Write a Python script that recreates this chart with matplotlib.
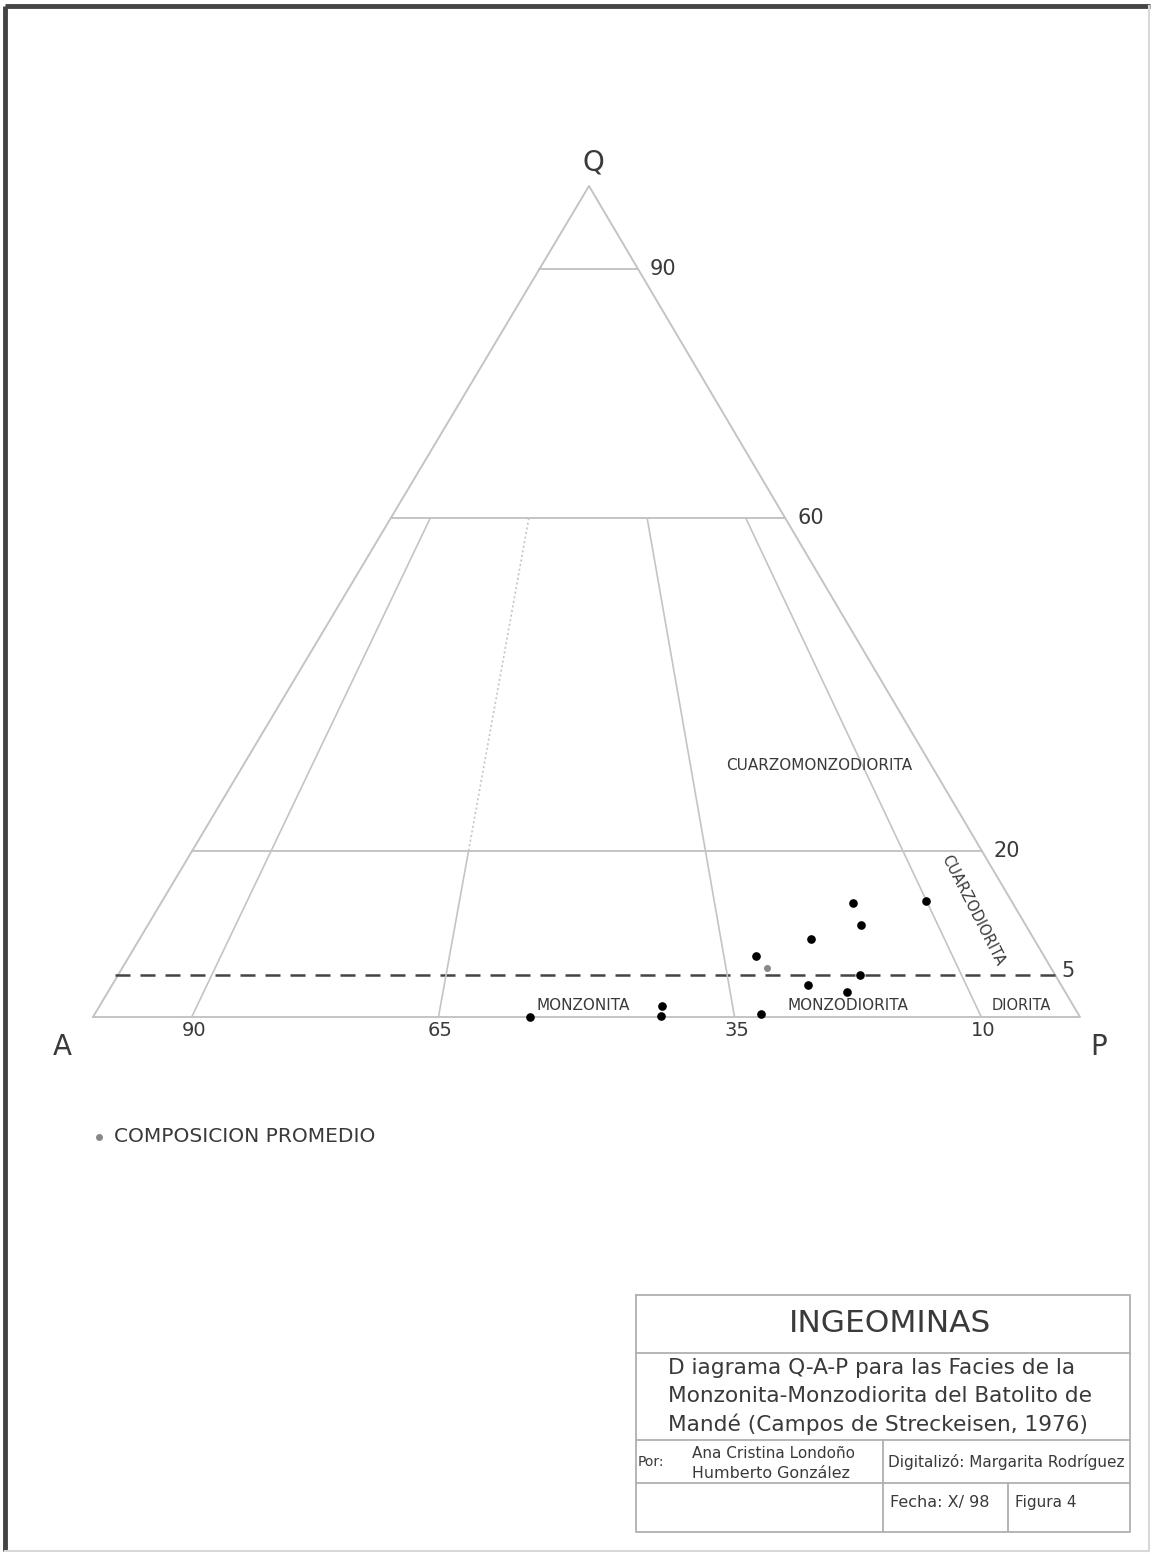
import numpy as np
import matplotlib.pyplot as plt

plt.rcParams['font.family'] = ['DejaVu Sans']

muestras_Q = [13.7, 14.0, 11.1, 9.4, 7.3, 5.0, 3.9, 3.0, 0.4, 0.0, 1.3, 0.1]
muestras_A = [16.2, 8.6, 16.6, 22.6, 29.2, 19.8, 25.6, 22.1, 32.1, 55.7, 41.7, 42.4]
muestras_P = [70.1, 77.4, 72.2, 68.0, 63.5, 75.2, 70.5, 74.9, 67.5, 44.3, 57.0, 57.5]
promedio_Q = [5.9]
promedio_A = [28.8]
promedio_P = [65.3]

limites_Q = [90, 60, 20]          # lineas horizontales de cuarzo
limite_Q_rayado = 5
limites_A = [90, 65, 35, 10]      # divisiones A/(A+P)
campos = ['MONZONITA', 'MONZODIORITA', 'DIORITA']

# vertices del triangulo (pixeles de la figura)
VA = np.array([93.0, 1017.0])
VP = np.array([1080.0, 1017.0])
VQ = np.array([589.0, 186.0])


def tern(q, a, p):
    q, a, p = np.asarray(q, float), np.asarray(a, float), np.asarray(p, float)
    s = q + a + p
    x = (a * VA[0] + p * VP[0] + q * VQ[0]) / s
    y = (a * VA[1] + p * VP[1] + q * VQ[1]) / s
    return x, y


def punto(q, r):
    # q fraccion de cuarzo, r = P/(A+P)
    return tern(q, (1 - q) * (1 - r), (1 - q) * r)


fig = plt.figure(figsize=(11.52, 15.54), dpi=100)
ax = fig.add_axes([0, 0, 1, 1])
ax.set_xlim(0, 1152)
ax.set_ylim(1554, 0)
ax.axis('off')

gris = '#c4c4c4'
texto = '#3a3a3a'

# marco de la hoja
ax.plot([5, 5], [6, 1551], color='#444444', lw=3.5, solid_capstyle='butt')
ax.plot([5, 1150], [6, 6], color='#444444', lw=3.5, solid_capstyle='butt')
ax.plot([1149, 1149], [6, 1551], color='#d8d8d8', lw=1.5)
ax.plot([5, 1149], [1551, 1551], color='#d8d8d8', lw=1.5)

# triangulo
x, y = tern([0, 100, 0, 0], [100, 0, 0, 100], [0, 0, 100, 0])
ax.plot(x, y, color=gris, lw=1.4)

for qv in limites_Q:
    q = qv / 100
    x0, y0 = punto(q, 0)
    x1, y1 = punto(q, 1)
    ax.plot([x0, x1], [y0, y1], color=gris, lw=1.4)
    ax.text(x1 + 12, y1, str(qv), fontsize=15, color=texto, ha='left', va='center')

q = limite_Q_rayado / 100
x0, y0 = punto(q, 0)
x1, y1 = punto(q, 1)
ax.plot([x0 - 3, x1], [y0, y1], color='#444444', lw=1.8, dashes=(6, 4))
ax.text(x1 + 6, y1 - 4, str(limite_Q_rayado), fontsize=15, color=texto, ha='left', va='center')

for av in limites_A:
    r = 1 - av / 100
    if av == 65:
        xs, ys = punto(np.array([0, 0.2]), r)
        ax.plot(xs, ys, color=gris, lw=1.2)
        xs, ys = punto(np.array([0.2, 0.6]), r)
        ax.plot(xs, ys, color=gris, lw=1.2, dashes=(1.2, 1.6))
    else:
        xs, ys = punto(np.array([0, 0.6]), r)
        ax.plot(xs, ys, color=gris, lw=1.2)
    xb, yb = punto(0, r)
    ax.text(xb + 2, yb + 14, str(av), fontsize=14, color=texto, ha='center', va='center')

# vertices
ax.text(VQ[0] + 4, VQ[1] - 23, 'Q', fontsize=20, color=texto, ha='center', va='center')
ax.text(VA[0] - 31, VA[1] + 30, 'A', fontsize=20, color=texto, ha='center', va='center')
ax.text(VP[0] + 19, VP[1] + 30, 'P', fontsize=20, color=texto, ha='center', va='center')

# nombres de campos
ax.text(583, 1006, campos[0], fontsize=11, color=texto, ha='center', va='center')
ax.text(848, 1006, campos[1], fontsize=11, color=texto, ha='center', va='center')
ax.text(1021, 1006, campos[2], fontsize=10.5, color=texto, ha='center', va='center')
ax.text(819, 766, 'CUARZOMONZODIORITA', fontsize=11, color=texto, ha='center', va='center')
ax.text(973, 910, 'CUARZODIORITA', fontsize=10.5, color=texto, ha='center', va='center',
        rotation=-63, rotation_mode='anchor')

# muestras
xm, ym = tern(muestras_Q, muestras_A, muestras_P)
ax.plot(xm, ym, 'o', color='black', ms=5.2, ls='none')
xp, yp = tern(promedio_Q, promedio_A, promedio_P)
ax.plot(xp, yp, 'o', color='#888888', ms=4, ls='none')

# leyenda
ax.plot([99], [1137], 'o', color='#888888', ms=4)
ax.text(114, 1136, 'COMPOSICION PROMEDIO', fontsize=14.5, color=texto, ha='left', va='center')

# cuadro de titulo
lc = '#b0b0b0'
ax.plot([636, 1130, 1130, 636, 636], [1295, 1295, 1532, 1532, 1295], color=lc, lw=1.3)
ax.plot([636, 1130], [1353, 1353], color=lc, lw=1.3)
ax.plot([636, 1130], [1440, 1440], color=lc, lw=1.3)
ax.plot([636, 1130], [1483, 1483], color=lc, lw=1.3)
ax.plot([883, 883], [1440, 1532], color=lc, lw=1.3)
ax.plot([1008, 1008], [1483, 1532], color=lc, lw=1.3)

ax.text(890, 1324, 'INGEOMINAS', fontsize=22.5, color=texto, ha='center', va='center')
ax.text(668, 1368, 'D iagrama Q-A-P para las Facies de la', fontsize=15.6, color=texto,
        ha='left', va='center')
ax.text(668, 1396, 'Monzonita-Monzodiorita del Batolito de', fontsize=15.6, color=texto,
        ha='left', va='center')
ax.text(668, 1424, 'Mandé (Campos de Streckeisen, 1976)', fontsize=15.6, color=texto,
        ha='left', va='center')
ax.text(638, 1462, 'Por:', fontsize=10, color=texto, ha='left', va='center')
ax.text(692, 1453, 'Ana Cristina Londoño', fontsize=11, color=texto, ha='left', va='center')
ax.text(692, 1473, 'Humberto González', fontsize=11.4, color=texto, ha='left', va='center')
ax.text(888, 1462, 'Digitalizó: Margarita Rodríguez', fontsize=11, color=texto,
        ha='left', va='center')
ax.text(890, 1502, 'Fecha: X/ 98', fontsize=11.5, color=texto, ha='left', va='center')
ax.text(1015, 1502, 'Figura 4', fontsize=11, color=texto, ha='left', va='center')

fig.savefig('out.png', dpi=100, facecolor='white')
